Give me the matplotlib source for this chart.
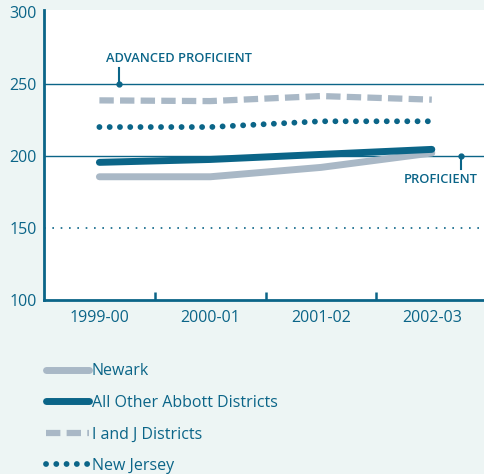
import matplotlib.pyplot as plt
import numpy as np

plt.rcParams['font.family'] = ['Open Sans', 'DejaVu Sans']

# school years and mean scale scores
years = ["1999-00", "2000-01", "2001-02", "2002-03"]
newark = [185.5, 185.5, 192, 202]
abbott = [195.5, 197.5, 201, 204.5]
i_and_j = [238.5, 238, 241.5, 239]
new_jersey = [220, 220, 224, 224]

teal = "#0b6588"
grey = "#a9b8c6"
bg = "#edf5f4"

fig = plt.figure(figsize=(4.85, 4.74), dpi=100, facecolor=bg)
ax = fig.add_axes([44/485, 1 - 300/474, 1 - 44/485, 290/474])
ax.set_facecolor("white")

x = np.arange(len(years))

# proficiency cut scores
ax.axhline(250, color=teal, lw=1.0, zorder=1)
ax.axhline(200, color=teal, lw=1.0, zorder=1)
ax.axhline(150, color=teal, lw=1.2, linestyle=(0, (1, 4)), zorder=1)

ax.plot(x, newark, color=grey, lw=5.0, solid_capstyle="round", label="Newark", zorder=3)
ax.plot(x, abbott, color=teal, lw=5.0, solid_capstyle="round", label="All Other Abbott Districts", zorder=4)
ax.plot(x, i_and_j, color=grey, lw=4.5, linestyle=(0, (2.3, 1.0)), dash_capstyle="butt",
        label="I and J Districts", zorder=3)
ax.plot(x, new_jersey, color=teal, lw=4.2, linestyle=(0, (0.01, 1.75)), dash_capstyle="round",
        label="New Jersey", zorder=3)

# labels for the cut scores
ax.plot([0.176, 0.176], [250, 261], color=teal, lw=1.5, zorder=2)
ax.plot(0.176, 250, "o", color=teal, ms=3.5, zorder=2)
ax.text(0.06, 267.5, "ADVANCED PROFICIENT", color=teal, fontsize=9.3, fontweight="semibold",
        ha="left", va="center")
ax.plot([3.266, 3.266], [200, 191], color=teal, lw=1.5, zorder=2)
ax.plot(3.266, 200, "o", color=teal, ms=3.5, zorder=2)
ax.text(3.08, 183.3, "PROFICIENT", color=teal, fontsize=9.3, fontweight="semibold",
        ha="center", va="center")

ax.set_xlim(-0.5, 3.48)
ax.set_ylim(100, 301.2)
ax.set_xticks(x)
ax.set_xticklabels(years)
ax.set_xticks([0.5, 1.5, 2.5], minor=True)
ax.set_yticks([100, 150, 200, 250, 300])
ax.tick_params(axis="x", which="major", length=0, colors=teal, labelsize=11.5, pad=7)
ax.tick_params(axis="x", which="minor", direction="in", length=5.5, width=1.8, color=teal)
ax.tick_params(axis="y", length=0, colors=teal, labelsize=11.5, pad=5)
for s in ["top", "right"]:
    ax.spines[s].set_visible(False)
for s in ["left", "bottom"]:
    ax.spines[s].set_color(teal)
    ax.spines[s].set_linewidth(2)

leg = fig.legend(loc="upper left", bbox_to_anchor=(40/485, 1 - 357/474), frameon=False,
                 fontsize=11.5, handlelength=2.65, handletextpad=0.2, labelspacing=0.97,
                 borderaxespad=0)
for t in leg.get_texts():
    t.set_color(teal)

fig.savefig("out.png", dpi=100, facecolor=bg)
